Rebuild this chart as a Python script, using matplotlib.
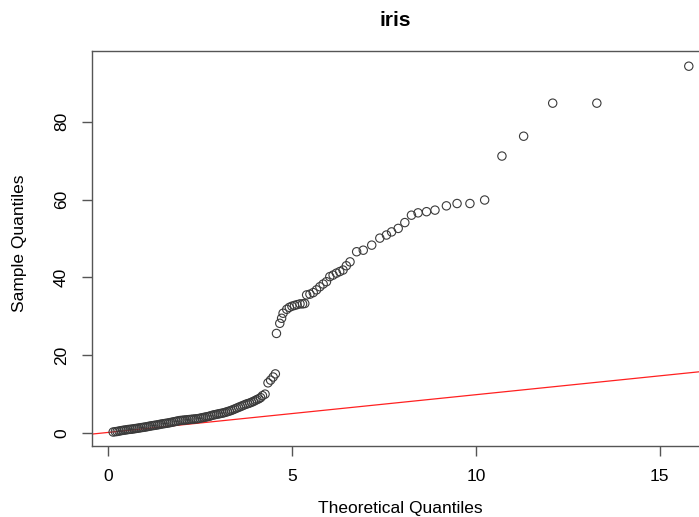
import numpy as np
import matplotlib
matplotlib.use("Agg")
import matplotlib.pyplot as plt

plt.rcParams['font.family'] = ['Liberation Sans', 'DejaVu Sans']

# === Data
# dense lower band
theo_low = [0.14, 0.20, 0.25, 0.30, 0.35, 0.40, 0.45, 0.50, 0.55, 0.60,
            0.65, 0.70, 0.75, 0.80, 0.85, 0.90, 0.95, 1.00, 1.05, 1.10,
            1.15, 1.20, 1.25, 1.30, 1.35, 1.40, 1.45, 1.50, 1.55, 1.60,
            1.65, 1.70, 1.75, 1.80, 1.85, 1.90, 1.95, 2.00, 2.05, 2.10,
            2.15, 2.20, 2.25, 2.30, 2.35, 2.40, 2.45, 2.50, 2.55, 2.60,
            2.65, 2.70, 2.75, 2.80, 2.85, 2.90, 2.95, 3.00, 3.05, 3.10,
            3.15, 3.20, 3.25, 3.30, 3.35, 3.40, 3.45, 3.50, 3.55, 3.60,
            3.65, 3.70, 3.75, 3.80, 3.85, 3.90, 3.95, 4.00, 4.05, 4.10,
            4.15, 4.20, 4.27, 4.35, 4.42, 4.49, 4.55]
samp_low = [0.26, 0.35, 0.4, 0.5, 0.6, 0.68, 0.75, 0.82, 0.9, 0.95,
            1.0, 1.08, 1.15, 1.22, 1.3, 1.38, 1.45, 1.52, 1.6, 1.7,
            1.8, 1.88, 1.95, 2.02, 2.1, 2.2, 2.3, 2.38, 2.45, 2.52,
            2.6, 2.7, 2.8, 2.9, 3.0, 3.1, 3.2, 3.25, 3.3, 3.35,
            3.4, 3.45, 3.5, 3.55, 3.6, 3.65, 3.7, 3.8, 3.9, 4.0,
            4.1, 4.2, 4.3, 4.45, 4.6, 4.7, 4.8, 4.9, 5.0, 5.1,
            5.2, 5.35, 5.5, 5.65, 5.8, 6.0, 6.2, 6.4, 6.6, 6.8,
            7.0, 7.2, 7.4, 7.55, 7.7, 7.9, 8.1, 8.35, 8.6, 8.8,
            9.1, 9.6, 10.0, 12.9, 13.6, 14.4, 15.2]

# upper part after the jump
theo_high = [4.58, 4.67, 4.72, 4.76, 4.86, 4.93, 5.00, 5.07, 5.14, 5.22,
             5.29, 5.35, 5.40, 5.49, 5.58, 5.67, 5.76, 5.85, 5.94, 6.03,
             6.12, 6.21, 6.30, 6.39, 6.48, 6.58, 6.76, 6.94, 7.17, 7.39,
             7.57, 7.71, 7.89, 8.07, 8.25, 8.43, 8.66, 8.89, 9.20, 9.49,
             9.84, 10.24, 10.71, 11.30, 12.09, 13.29, 15.79]
samp_high = [25.6, 28.2, 29.5, 30.8, 31.8, 32.3, 32.6, 32.8, 33.0, 33.2,
             33.2, 33.3, 35.5, 35.7, 36.1, 36.8, 37.6, 38.3, 38.9, 40.2,
             40.6, 41.1, 41.5, 41.9, 43.0, 44.0, 46.6, 47.0, 48.3, 50.1,
             50.9, 51.7, 52.6, 54.1, 56.0, 56.6, 56.9, 57.3, 58.4, 59.0,
             59.0, 59.9, 71.2, 76.3, 84.8, 84.8, 94.3]

# reference line
line_intercept = 0.15
line_slope = 0.97

x = np.array(theo_low + theo_high)
y = np.array(samp_low + samp_high)

# === Plotting
fig = plt.figure(figsize=(6.99, 5.17), dpi=100)
ax = fig.add_axes([0.1316, 0.1373, 0.888, 0.764])

ax.scatter(x, y, s=36, facecolors='none', edgecolors='#3a3a3a',
           linewidths=0.8, zorder=3)

xs = np.array([-1, 17])
ax.plot(xs, line_intercept + line_slope * xs, color='#ff2020', lw=0.9, zorder=2)

ax.set_xlim(-0.435, 16.44)
ax.set_ylim(-3.34, 98.2)
ax.set_xticks([0, 5, 10, 15])
ax.set_yticks([0, 20, 40, 60, 80])

for s in ax.spines.values():
    s.set_color('#555555')
    s.set_linewidth(1.0)

ax.tick_params(axis='both', direction='out', length=7.5, width=1.0,
               color='#555555', labelsize=12.5, pad=9)
for lab in ax.get_yticklabels():
    lab.set_rotation(90)
    lab.set_va('center')

fig.text(0.572, 0.0174, "Theoretical Quantiles", ha='center', va='center', fontsize=12.5)
fig.text(0.0286, 0.53, "Sample Quantiles", ha='center', va='center',
         rotation=90, fontsize=12.5)
fig.text(0.566, 0.961, "iris", ha='center', va='center', fontsize=15,
         fontweight='bold')

fig.savefig("out.png", dpi=100)
